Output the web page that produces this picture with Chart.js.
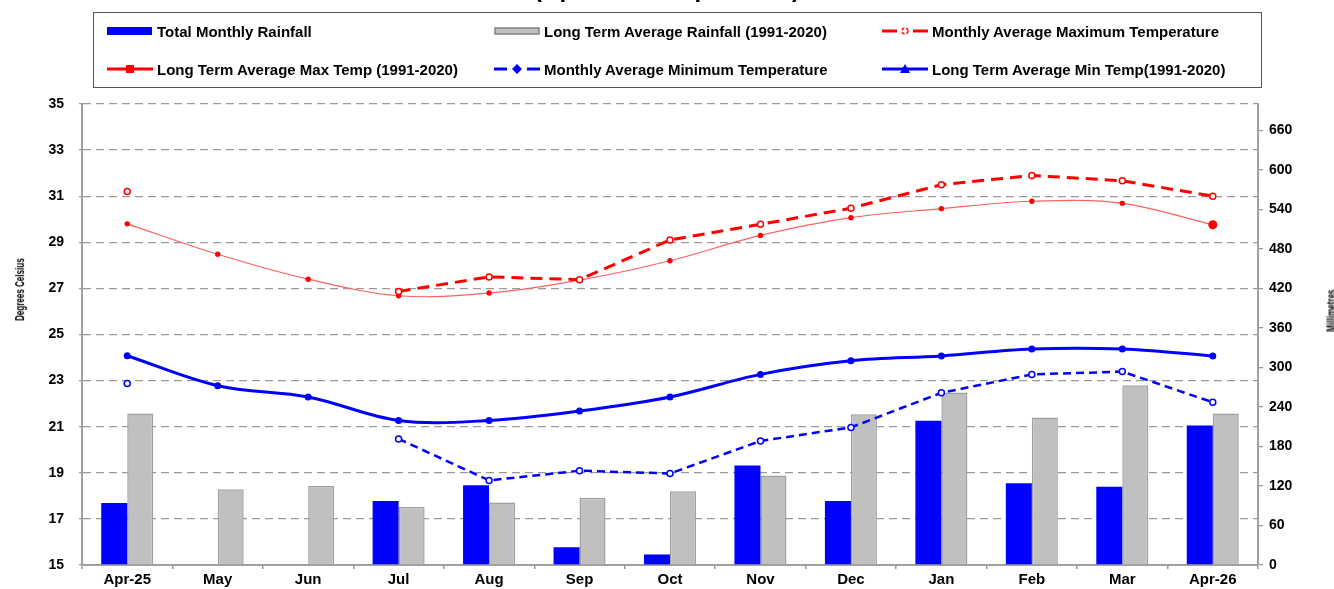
<!DOCTYPE html>
<html>
<head>
<meta charset="utf-8">
<script src="https://cdn.jsdelivr.net/npm/chart.js@4/dist/chart.umd.min.js"></script>
<style>
  html, body { margin: 0; padding: 0; background: #fff; }
  #wrap { position: relative; width: 1334px; height: 589px; overflow: hidden; font-family: "Liberation Sans", Arial, sans-serif; }
  #chart { position: absolute; left: 0; top: 0; }
  .title { position: absolute; left: 0; width: 1334px; top: -24px; text-align: center; font-weight: bold; font-size: 24px; line-height: 26px; }
  .legend { position: absolute; left: 93px; top: 12px; width: 1167px; height: 74px; border: 1.5px solid #555; }
  .item { position: absolute; display: flex; align-items: center; height: 20px; font-weight: bold; font-size: 15px; white-space: nowrap; }
  .item svg { margin-right: 3px; }
  .ytitle { position: absolute; font-weight: bold; font-size: 13px; white-space: nowrap; }
</style>
</head>
<body>
<div id="wrap">
  <canvas id="chart" width="1334" height="589"></canvas>
  <div class="title">(April 2025 - April 2026)</div>
  <div class="legend" id="legend"></div>
  <div class="ytitle" id="yLeft">Degrees Celsius</div>
  <div class="ytitle" id="yRight">Millimetres</div>
</div>
<script>
// categories and series
const months = ['Apr-25', 'May', 'Jun', 'Jul', 'Aug', 'Sep', 'Oct', 'Nov', 'Dec', 'Jan', 'Feb', 'Mar', 'Apr-26'];
const totalRain  = [94, null, null, 97, 121, 27, 16, 151, 97, 219, 124, 119, 212];
const ltaRain    = [230, 115, 120, 88, 95, 102, 112, 136, 229, 262, 224, 273, 230];
const maxTemp    = [31.2, null, null, 26.87, 27.5, 27.38, 29.1, 29.78, 30.48, 31.5, 31.9, 31.67, 31.0];
const ltaMaxTemp = [29.8, 28.48, 27.4, 26.68, 26.8, 27.36, 28.2, 29.3, 30.07, 30.46, 30.78, 30.69, 29.76];
const minTemp    = [22.87, null, null, 20.47, 18.67, 19.09, 18.97, 20.38, 20.97, 22.47, 23.27, 23.39, 22.06];
const ltaMinTemp = [24.08, 22.78, 22.29, 21.27, 21.27, 21.68, 22.29, 23.27, 23.86, 24.07, 24.37, 24.37, 24.07];

// axis ranges
const tempMin = 15, tempMax = 35, tempStep = 2;
const rainMin = 0, rainMax = 700, rainStep = 60;

const legendItems = [
  { text: 'Total Monthly Rainfall', col: 0, row: 0,
    svg: '<rect x="0" y="1" width="45" height="8" fill="#0000ff"/>' },
  { text: 'Long Term Average Rainfall (1991-2020)', col: 1, row: 0,
    svg: '<rect x="1" y="2" width="44" height="6" fill="#c0c0c0" stroke="#808080" stroke-width="1.5"/>' },
  { text: 'Monthly Average Maximum Temperature', col: 2, row: 0,
    svg: '<line x1="0" y1="5" x2="15" y2="5" stroke="#ff0000" stroke-width="3"/><line x1="31" y1="5" x2="46" y2="5" stroke="#ff0000" stroke-width="3"/><circle cx="23" cy="5" r="3" fill="#fff" stroke="#ff0000" stroke-width="1.5" stroke-dasharray="3,2"/>' },
  { text: 'Long Term Average Max Temp (1991-2020)', col: 0, row: 1,
    svg: '<line x1="0" y1="5" x2="46" y2="5" stroke="#ff0000" stroke-width="3"/><rect x="19" y="1" width="8" height="8" fill="#ff0000"/>' },
  { text: 'Monthly Average Minimum Temperature', col: 1, row: 1,
    svg: '<line x1="0" y1="5" x2="13" y2="5" stroke="#0000ff" stroke-width="3"/><line x1="33" y1="5" x2="46" y2="5" stroke="#0000ff" stroke-width="3"/><polygon points="23,0 28,5 23,10 18,5" fill="#0000ff"/>' },
  { text: 'Long Term Average Min Temp(1991-2020)', col: 2, row: 1,
    svg: '<line x1="0" y1="5" x2="46" y2="5" stroke="#0000ff" stroke-width="3"/><polygon points="23,0 28,9 18,9" fill="#0000ff"/>' }
];

const legendEl = document.getElementById('legend');
const colX = [13, 400, 788];
const rowY = [8, 46];
legendItems.forEach(it => {
  const d = document.createElement('div');
  d.className = 'item';
  d.style.left = colX[it.col] + 'px';
  d.style.top = rowY[it.row] + 'px';
  d.innerHTML = '<svg width="47" height="10" viewBox="0 0 47 10">' + it.svg + '</svg><span>' + it.text + '</span>';
  legendEl.appendChild(d);
});

const ctx = document.getElementById('chart').getContext('2d');
const lastIdx = months.length - 1;

const chart = new Chart(ctx, {
  type: 'bar',
  data: {
    labels: months,
    datasets: [
      {
        type: 'line', label: 'Monthly Average Maximum Temperature', data: maxTemp, yAxisID: 'y', order: 1,
        borderColor: '#ff0000', borderWidth: 3, borderDash: [12, 7], tension: 0, spanGaps: false,
        pointRadius: 3, pointBorderWidth: 1.5, pointBackgroundColor: '#ffffff', pointBorderColor: '#ff0000'
      },
      {
        type: 'line', label: 'Long Term Average Max Temp (1991-2020)', data: ltaMaxTemp, yAxisID: 'y', order: 2,
        borderColor: '#ff6060', borderWidth: 1.2, tension: 0.35,
        pointRadius: c => c.dataIndex === lastIdx ? 4.5 : 2.7, pointBorderWidth: 0,
        pointBackgroundColor: '#ff0000'
      },
      {
        type: 'line', label: 'Monthly Average Minimum Temperature', data: minTemp, yAxisID: 'y', order: 3,
        borderColor: '#0000ff', borderWidth: 2.5, borderDash: [8, 5], tension: 0, spanGaps: false,
        pointRadius: 3, pointBorderWidth: 1.5, pointBackgroundColor: '#ffffff', pointBorderColor: '#0000ff'
      },
      {
        type: 'line', label: 'Long Term Average Min Temp(1991-2020)', data: ltaMinTemp, yAxisID: 'y', order: 4,
        borderColor: '#0000ff', borderWidth: 3, tension: 0.35,
        pointRadius: 3.5, pointBorderWidth: 0, pointBackgroundColor: '#0000ff'
      },
      {
        label: 'Total Monthly Rainfall', data: totalRain, yAxisID: 'y1', order: 10,
        backgroundColor: '#0000ff', borderWidth: 0,
        categoryPercentage: 0.575, barPercentage: 1.0
      },
      {
        label: 'Long Term Average Rainfall (1991-2020)', data: ltaRain, yAxisID: 'y1', order: 11,
        backgroundColor: '#c0c0c0', borderColor: '#a0a0a0', borderWidth: 1.5,
        categoryPercentage: 0.575, barPercentage: 1.0
      }
    ]
  },
  options: {
    responsive: false,
    animation: false,
    devicePixelRatio: 1,
    layout: { padding: { left: 0, right: 0, top: 104, bottom: 0 } },
    plugins: { legend: { display: false }, tooltip: { enabled: false }, title: { display: false } },
    scales: {
      x: {
        offset: true,
        grid: { offset: true, drawOnChartArea: false, drawTicks: true, tickLength: 4, color: '#999', lineWidth: 1.5 },
        border: { display: true, color: '#a0a0a0', width: 2 },
        ticks: { color: '#000', font: { family: 'Liberation Sans', size: 15, weight: 'bold' }, padding: 2, maxRotation: 0, autoSkip: false },
        afterFit: s => { s.height = 24; }
      },
      y: {
        position: 'left', min: tempMin, max: tempMax,
        grid: { color: '#9a9a9a', lineWidth: 1.3, tickLength: 3, drawTicks: true },
        border: { display: true, color: '#a0a0a0', width: 2, dash: [8, 5] },
        ticks: { stepSize: tempStep, color: '#000', padding: 15, font: { family: 'Liberation Sans', size: 14, weight: 'bold' } },
        afterFit: s => { s.width = 82; }
      },
      y1: {
        position: 'right', min: rainMin, max: rainMax,
        grid: { drawOnChartArea: false, drawTicks: true, tickLength: 5, color: '#999', lineWidth: 1.3 },
        border: { display: true, color: '#a0a0a0', width: 2 },
        ticks: { stepSize: rainStep, includeBounds: false, color: '#000', padding: 6, font: { family: 'Liberation Sans', size: 14, weight: 'bold' } },
        afterFit: s => { s.width = 76; }
      }
    }
  }
});

// rotated, condensed axis titles placed beside the axes
function placeTitle(id, cx, cy) {
  const el = document.getElementById(id);
  const w = el.offsetWidth, h = el.offsetHeight;
  el.style.left = (cx - w / 2) + 'px';
  el.style.top = (cy - h / 2) + 'px';
  el.style.transform = 'rotate(-90deg) scaleX(0.62)';
}
placeTitle('yLeft', 19, 289);
placeTitle('yRight', 1331, 310);
</script>
</body>
</html>
